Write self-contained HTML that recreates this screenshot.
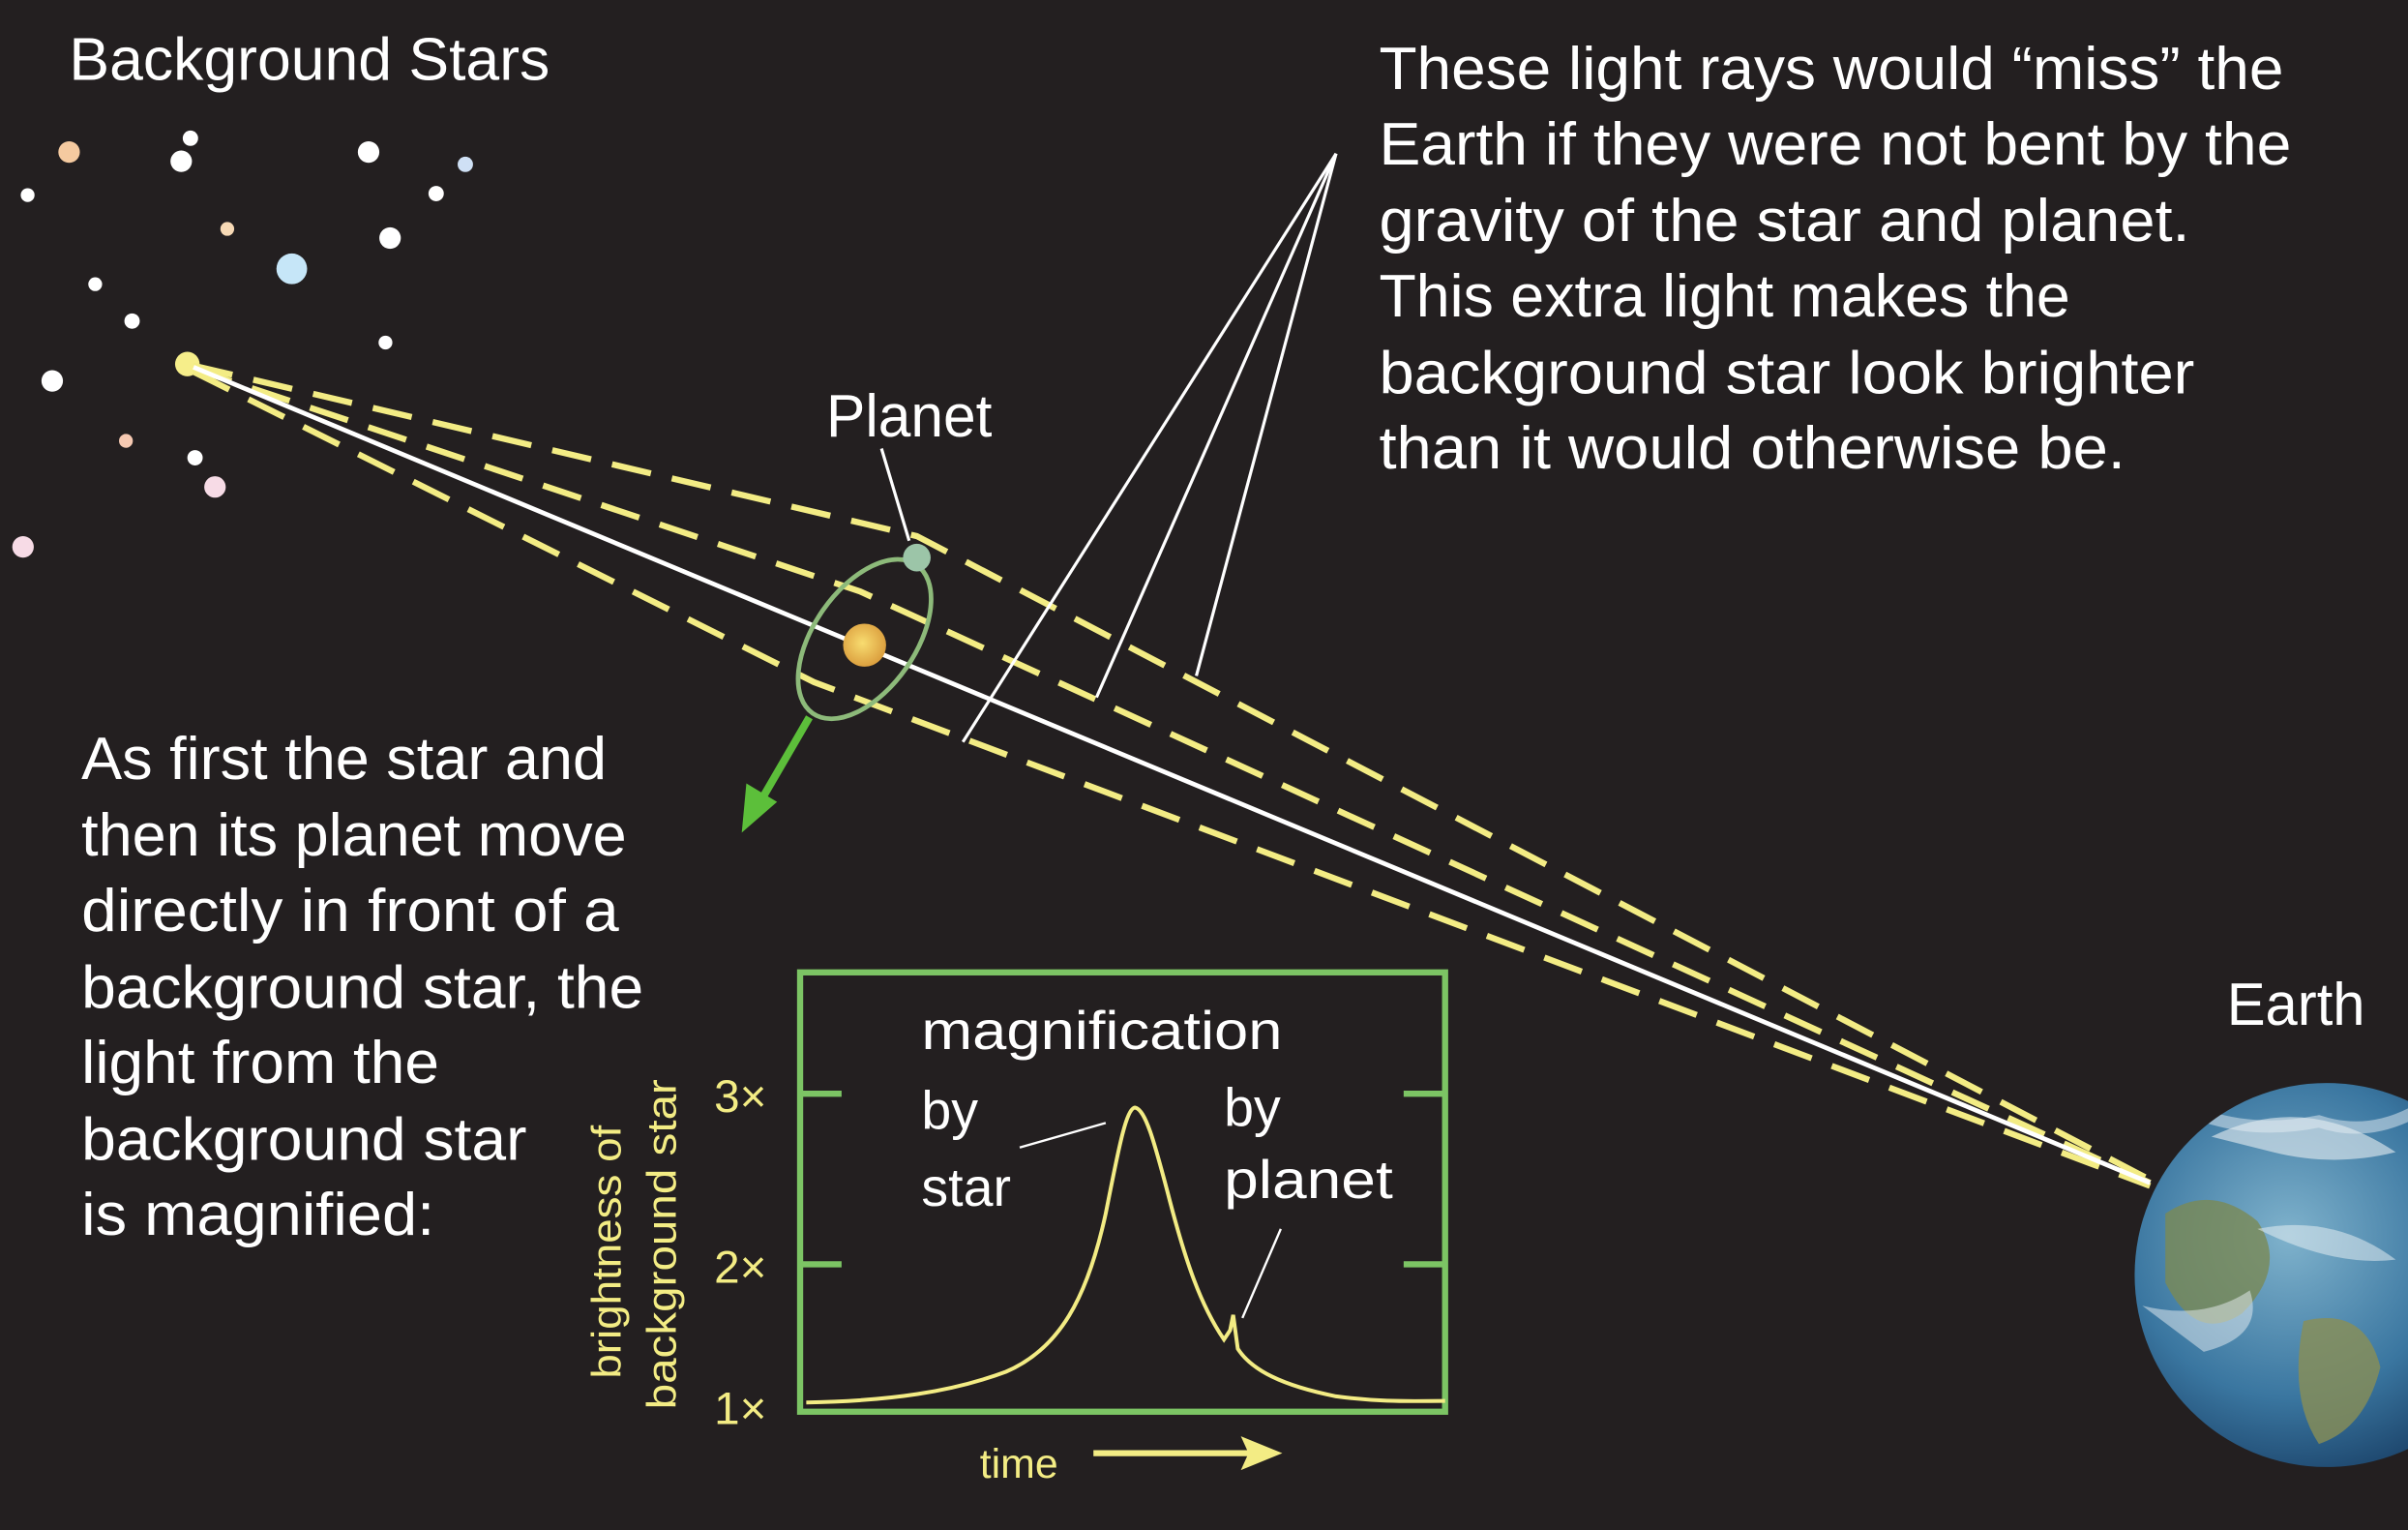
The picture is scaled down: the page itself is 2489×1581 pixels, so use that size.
<!DOCTYPE html>
<html><head><meta charset="utf-8"><style>
html,body{margin:0;padding:0;background:#231f20;}
svg{display:block;}
text{font-family:"Liberation Sans",sans-serif;}
</style></head><body>
<svg width="2489" height="1581" viewBox="0 0 1568 996" preserveAspectRatio="none" xmlns="http://www.w3.org/2000/svg">
<defs>
<radialGradient id="eg" cx="0.4" cy="0.4" r="0.7">
<stop offset="0" stop-color="#7fb2cc"/><stop offset="0.6" stop-color="#3a76a0"/><stop offset="1" stop-color="#163a60"/>
</radialGradient>
<radialGradient id="sg" cx="0.45" cy="0.45" r="0.6">
<stop offset="0" stop-color="#f8dc70"/><stop offset="1" stop-color="#d99a3a"/>
</radialGradient>
<clipPath id="ec"><circle cx="1515" cy="830" r="125"/></clipPath>
</defs>
<rect width="1568" height="996" fill="#231f20"/>
<g>
<circle cx="45" cy="99" r="7" fill="#f5caa0"/>
<circle cx="118" cy="105" r="7" fill="#fff"/>
<circle cx="124" cy="90" r="5" fill="#fff"/>
<circle cx="240" cy="99" r="7" fill="#fff"/>
<circle cx="303" cy="107" r="5" fill="#cfe0f5"/>
<circle cx="18" cy="127" r="4.5" fill="#fff"/>
<circle cx="148" cy="149" r="4.5" fill="#f7d9b5"/>
<circle cx="284" cy="126" r="5" fill="#fff"/>
<circle cx="190" cy="175" r="10" fill="#c6e6f8"/>
<circle cx="254" cy="155" r="7" fill="#fff"/>
<circle cx="62" cy="185" r="4.5" fill="#fff"/>
<circle cx="86" cy="209" r="5" fill="#fff"/>
<circle cx="251" cy="223" r="4.5" fill="#fff"/>
<circle cx="34" cy="248" r="7" fill="#fff"/>
<circle cx="122" cy="237" r="8" fill="#f6ee8a"/>
<circle cx="82" cy="287" r="4.5" fill="#f6c9b2"/>
<circle cx="127" cy="298" r="5" fill="#fff"/>
<circle cx="140" cy="317" r="7" fill="#f7dbe6"/>
<circle cx="15" cy="356" r="7" fill="#f7dbe6"/>
</g>
<g fill="none" stroke="#f3ec84" stroke-width="4" stroke-dasharray="26,14">
<polyline points="126,238 597,349 1400,768"/>
<polyline points="126,240 560,385 1400,770"/>
<polyline points="126,242 530,444 1400,772"/>
</g>
<line x1="126" y1="239" x2="1400" y2="770" stroke="#fff" stroke-width="3"/>
<g stroke="#fff" stroke-width="2" fill="none">
<line x1="870" y1="100" x2="627" y2="483"/>
<line x1="870" y1="100" x2="714" y2="454"/>
<line x1="870" y1="100" x2="779" y2="440"/>
<line x1="574" y1="292" x2="592" y2="352"/>
</g>
<ellipse cx="563" cy="416" rx="33" ry="59" transform="rotate(35 563 416)" fill="none" stroke="#8dba7a" stroke-width="3"/>
<circle cx="563" cy="420" r="14" fill="url(#sg)"/>
<circle cx="597" cy="363" r="9" fill="#9cc5a8"/>
<line x1="527" y1="467" x2="495" y2="522" stroke="#5cbf3a" stroke-width="5"/>
<polygon points="483,542 486,510 506,522" fill="#5cbf3a"/>
<circle cx="1515" cy="830" r="125" fill="url(#eg)"/>
<g clip-path="url(#ec)">
<path d="M1410 790 q30 -20 60 5 q20 30 -10 60 q-30 20 -50 -20z" fill="#7a8a55" opacity="0.8"/>
<path d="M1500 860 q40 -10 50 30 q-10 40 -40 50 q-20 -30 -10 -80z" fill="#8a8f55" opacity="0.8"/>
<path d="M1440 740 q60 -30 120 10 q-40 10 -80 0z" fill="#e8eef2" opacity="0.6"/>
<path d="M1395 850 q40 10 70 -10 q10 30 -30 40z" fill="#eaf0f4" opacity="0.5"/>
<path d="M1470 800 q50 -10 90 20 q-40 5 -90 -20z" fill="#eef3f6" opacity="0.5"/>
<path d="M1420 720 q40 20 90 10 q30 10 60 -5" stroke="#e6eef4" stroke-width="8" fill="none" opacity="0.5"/>
</g>
<g fill="#fff" font-size="39">
<text x="45" y="52" textLength="313" lengthAdjust="spacingAndGlyphs">Background Stars</text>
<text x="538" y="284" textLength="108" lengthAdjust="spacingAndGlyphs">Planet</text>
<text x="1450" y="667" textLength="90" lengthAdjust="spacingAndGlyphs">Earth</text>
<text x="898" y="58" textLength="589" lengthAdjust="spacingAndGlyphs">These light rays would “miss” the</text>
<text x="898" y="107" textLength="594" lengthAdjust="spacingAndGlyphs">Earth if they were not bent by the</text>
<text x="898" y="157" textLength="528" lengthAdjust="spacingAndGlyphs">gravity of the star and planet.</text>
<text x="898" y="206" textLength="450" lengthAdjust="spacingAndGlyphs">This extra light makes the</text>
<text x="898" y="256" textLength="531" lengthAdjust="spacingAndGlyphs">background star look brighter</text>
<text x="898" y="305" textLength="486" lengthAdjust="spacingAndGlyphs">than it would otherwise be.</text>
<text x="53" y="507" textLength="342" lengthAdjust="spacingAndGlyphs">As first the star and</text>
<text x="53" y="557" textLength="355" lengthAdjust="spacingAndGlyphs">then its planet move</text>
<text x="53" y="606" textLength="350" lengthAdjust="spacingAndGlyphs">directly in front of a</text>
<text x="53" y="656" textLength="366" lengthAdjust="spacingAndGlyphs">background star, the</text>
<text x="53" y="705" textLength="233" lengthAdjust="spacingAndGlyphs">light from the</text>
<text x="53" y="755" textLength="290" lengthAdjust="spacingAndGlyphs">background star</text>
<text x="53" y="804" textLength="230" lengthAdjust="spacingAndGlyphs">is magnified:</text>
</g>
<rect x="521" y="633" width="420" height="286" fill="none" stroke="#7cc464" stroke-width="4"/>
<g stroke="#7cc464" stroke-width="4">
<line x1="521" y1="712" x2="548" y2="712"/><line x1="914" y1="712" x2="941" y2="712"/>
<line x1="521" y1="823" x2="548" y2="823"/><line x1="914" y1="823" x2="941" y2="823"/>
</g>
<path fill="none" stroke="#f3ec84" stroke-width="2.5" d="M525,913 C580,912 620,906 655,893 C690,878 708,845 720,790 C728,750 733,722 739,721 C746,722 752,745 760,775 C772,822 782,850 797,872 L801,866 L803,856 L806,878 C815,892 835,902 870,909 C900,913 920,912 941,912"/>
<g stroke="#fff" stroke-width="1.5">
<line x1="664" y1="747" x2="720" y2="731"/>
<line x1="834" y1="800" x2="809" y2="858"/>
</g>
<g fill="#fff" font-size="35">
<text x="600" y="683" textLength="235" lengthAdjust="spacingAndGlyphs">magnification</text>
<text x="600" y="735">by</text>
<text x="600" y="785">star</text>
<text x="797" y="733">by</text>
<text x="797" y="780" textLength="110" lengthAdjust="spacingAndGlyphs">planet</text>
</g>
<g fill="#f3ec84" font-size="30">
<text x="465" y="724">3×</text>
<text x="465" y="835">2×</text>
<text x="465" y="927">1×</text>
<text x="638" y="962" font-size="27">time</text>
<text transform="translate(404,815) rotate(-90)" text-anchor="middle" font-size="27" textLength="165" lengthAdjust="spacingAndGlyphs">brightness of</text>
<text transform="translate(440,810) rotate(-90)" text-anchor="middle" font-size="27" textLength="215" lengthAdjust="spacingAndGlyphs">background star</text>
</g>
<line x1="712" y1="946" x2="815" y2="946" stroke="#f3ec84" stroke-width="4"/>
<polygon points="835,946 808,935 813,946 808,957" fill="#f3ec84"/>
</svg>
</body></html>
